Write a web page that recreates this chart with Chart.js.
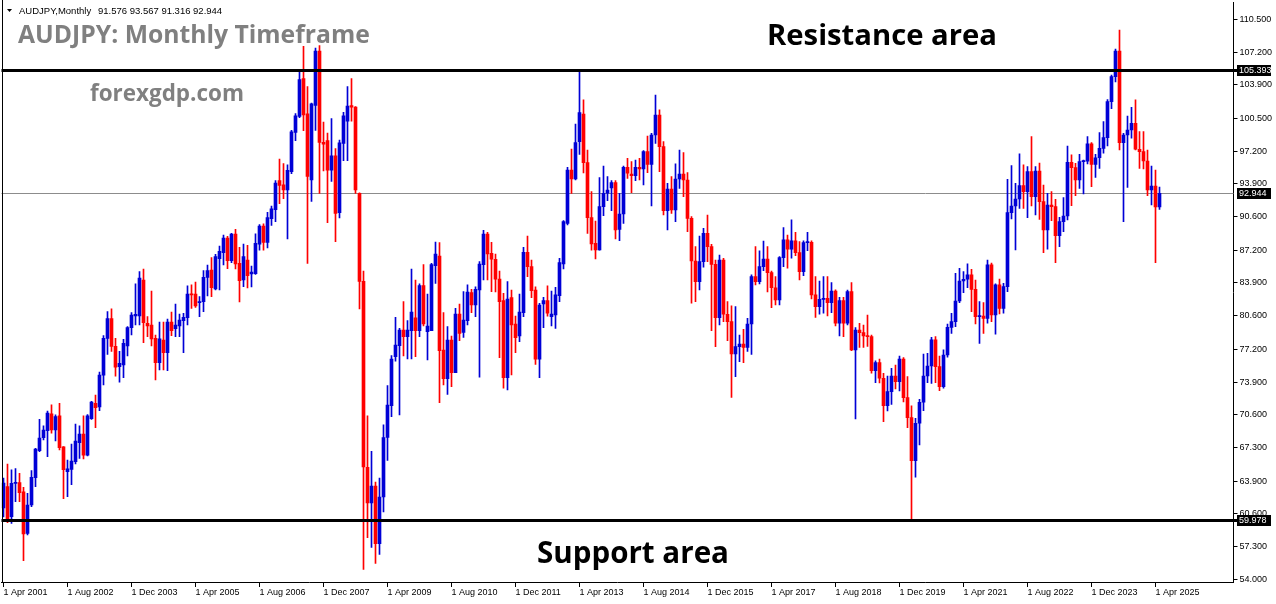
<!DOCTYPE html>
<html><head><meta charset="utf-8">
<script src="https://cdn.jsdelivr.net/npm/chart.js@4.4.1/dist/chart.umd.min.js"></script>
<style>html,body{margin:0;padding:0;background:#fff;overflow:hidden}#wrap{width:1276px;height:604px;position:relative}</style>
</head><body><div id="wrap"><canvas id="c" width="1276" height="604"></canvas></div>
<script>
const symbolInfo = "AUDJPY,Monthly";
const lastQuote = "91.576 93.567 91.316 92.944";
const titleText = "AUDJPY: Monthly Timeframe";
const siteText = "forexgdp.com";
const resistanceText = "Resistance area";
const supportText = "Support area";

const opens = [61.2,63.35,60.32,63.68,63.75,62.81,58.63,61.49,64.26,66.98,68.29,68.99,70.68,69.06,70.48,67.35,64.86,65.09,65.87,67.78,68.66,66.51,70.21,71.75,71.4,74.6,78.3,80.3,77.5,75.45,75.62,77.54,79.39,80.57,80.57,84.2,79.83,79.66,78.31,75.86,78.14,76.87,79.96,79.29,79.56,80.09,80.4,82.79,82.79,81.91,82.01,84.47,85.21,83.3,86.35,86.96,88.44,86.15,88.84,85.88,84.2,86.22,84.8,84.83,87.82,89.63,88.0,90.4,91.3,94.22,93.8,93.28,95.13,99.09,100.7,104.52,100.97,94.29,101.81,107.3,98.09,98.26,95.27,96.73,90.99,97.98,100.24,101.81,101.64,92.94,84.06,65.3,61.7,63.4,57.6,62.3,68.3,71.52,76.46,77.57,79.15,78.48,79.09,80.37,79.09,83.63,78.99,79.09,85.65,86.62,77.13,74.25,78.14,74.85,80.77,78.9,80.1,82.92,81.68,83.19,85.75,88.84,86.89,86.29,84.3,82.11,74.34,82.42,79.76,78.55,80.9,86.99,85.55,83.19,76.2,81.78,82.11,80.5,80.67,82.62,85.81,89.92,95.3,94.39,98.16,100.95,96.04,90.49,87.9,87.23,91.6,92.95,93.5,94.02,89.3,90.86,95.57,94.9,94.73,95.57,95.4,97.15,95.87,98.83,100.85,97.66,91.2,93.38,91.27,94.39,94.9,94.29,90.42,86.12,84.03,86.05,88.91,87.56,85.78,80.4,86.22,80.74,80.0,76.73,77.47,77.74,77.4,79.76,84.54,84.03,85.55,86.32,84.94,83.42,82.18,86.45,88.24,87.3,88.14,86.96,85.04,87.97,88.0,82.69,81.51,82.25,82.35,81.92,83.09,79.83,82.11,79.83,83.02,77.13,79.15,78.88,78.55,78.48,75.05,75.86,74.28,71.52,72.93,74.51,73.94,76.23,72.33,70.31,65.97,69.74,71.86,74.51,75.52,78.15,75.45,73.44,76.63,79.42,79.99,82.08,84.1,84.27,84.71,83.26,80.5,80.55,80.33,85.72,80.67,83.7,81.34,83.53,91.0,91.67,92.37,93.72,93.11,95.13,92.61,95.2,92.1,89.25,91.77,91.6,88.68,90.09,90.66,96.08,95.54,94.29,96.14,96.2,97.93,95.87,96.54,97.49,98.56,102.2,104.72,107.31,98.06,98.83,99.34,100.01,97.39,97.15,96.21,93.28,93.68,91.576];
const highs = [64.2,65.63,65.03,65.16,64.69,63.28,62.67,64.96,67.21,70.14,69.47,70.98,71.59,70.58,71.75,67.38,66.03,67.65,69.67,69.47,70.48,70.61,71.96,72.59,74.9,78.6,81.0,81.3,78.3,77.0,78.21,79.49,80.9,83.8,85.04,85.31,80.5,83.09,78.65,79.96,79.96,80.26,80.97,81.78,80.77,80.84,83.6,83.7,84.0,82.52,85.14,85.71,86.45,86.79,87.63,88.74,88.6,88.91,89.31,87.5,87.83,87.7,85.6,88.87,89.8,89.87,91.02,91.65,94.22,96.41,95.96,95.82,99.3,101.0,105.22,107.79,103.72,102.05,107.6,107.85,100.14,99.02,100.49,97.46,98.33,101.11,103.72,104.52,101.7,93.0,85.11,70.5,66.9,63.8,64.2,69.57,73.54,76.56,80.43,79.32,82.01,80.1,85.31,84.2,83.8,85.75,82.79,85.88,88.03,87.97,80.9,79.49,78.55,81.34,81.78,83.02,83.7,83.26,83.5,86.05,89.2,89.0,88.0,86.82,85.11,82.85,84.03,83.19,80.56,82.79,87.5,88.64,86.2,83.5,81.85,82.45,83.6,83.09,83.46,86.39,90.19,95.57,97.42,99.94,105.22,102.37,97.32,93.11,90.15,94.53,95.7,94.63,94.23,94.23,92.95,95.7,96.48,96.14,96.31,96.48,97.25,98.73,99.0,102.87,101.36,98.16,93.96,94.63,95.91,97.32,97.05,95.03,90.59,87.56,88.64,89.42,90.76,87.8,86.22,86.72,86.39,82.01,81.58,81.51,78.65,79.22,80.33,84.71,87.56,87.13,88.13,87.56,85.11,84.54,86.55,89.48,88.74,90.26,89.01,88.07,88.14,89.01,88.14,84.54,84.1,84.54,84.54,83.93,83.2,82.45,82.45,83.19,83.93,79.39,79.83,79.66,80.67,78.65,76.03,76.23,74.78,74.51,75.28,75.62,76.53,76.36,74.45,71.49,70.24,72.16,76.73,76.8,78.42,78.48,76.53,77.14,79.76,80.84,84.87,85.38,85.04,85.82,85.28,84.2,82.02,81.91,86.22,85.9,83.8,84.3,83.86,94.36,95.74,93.96,96.92,95.81,95.64,98.66,95.64,96.0,93.79,92.95,93.11,92.34,90.52,92.51,97.72,96.82,95.98,96.88,96.3,98.67,98.06,96.88,99.07,100.18,102.4,104.89,107.51,109.43,99.0,100.75,101.63,102.37,99.17,99.17,97.32,95.7,95.3,93.567];
const lows = [60.3,59.71,59.64,61.83,61.83,55.88,58.47,61.33,63.34,66.88,68.05,66.37,68.73,67.95,67.04,62.13,62.33,63.55,65.63,66.2,66.14,66.44,70.14,69.3,71.0,73.6,76.7,77.0,74.5,73.9,74.34,76.53,78.65,79.66,79.66,77.88,78.48,77.54,74.11,75.12,75.12,75.05,78.58,78.48,78.48,76.87,79.66,81.34,81.44,80.5,81.0,82.59,82.52,83.19,83.19,85.71,85.34,85.95,85.31,81.98,83.53,83.39,83.5,84.76,87.2,87.2,87.44,89.7,90.08,91.89,92.4,88.34,94.92,98.26,100.59,99.26,85.87,92.13,99.3,92.94,95.2,89.98,94.15,88.06,90.47,96.24,96.24,100.24,92.94,81.28,55.0,58.2,57.2,55.6,56.5,60.8,66.0,70.41,76.0,70.58,76.53,76.23,76.23,76.46,78.48,79.56,76.13,79.09,83.86,71.82,73.6,72.66,73.44,74.85,78.08,78.41,79.66,80.9,80.5,74.38,84.2,84.2,83.02,83.0,76.36,73.27,73.1,74.61,76.87,77.98,80.5,84.54,82.42,75.69,74.34,79.39,80.56,79.56,79.32,82.0,85.31,89.75,92.94,94.29,96.88,95.0,88.91,87.2,86.32,87.2,90.69,92.21,91.2,88.34,88.17,89.92,94.46,93.01,94.23,94.29,93.79,95.03,91.67,97.99,95.13,90.76,89.25,90.93,90.09,93.45,92.61,89.08,81.85,82.01,83.19,85.5,86.05,79.08,77.47,79.66,80.0,78.08,72.36,74.44,75.96,75.86,77.0,76.7,83.69,83.8,85.14,83.0,81.41,81.68,81.68,85.55,85.38,86.39,86.66,84.2,84.64,87.16,82.3,80.43,80.74,80.84,80.57,80.91,79.56,78.55,78.48,79.66,77.07,70.17,77.4,77.4,77.5,74.8,73.84,73.8,69.9,70.98,71.65,73.2,73.0,71.9,69.3,59.95,64.3,67.55,71.0,73.84,73.77,73.84,73.03,73.27,76.4,78.82,79.49,81.91,82.92,83.43,81.0,79.76,77.81,78.82,79.83,79.99,78.72,80.77,80.84,83.02,90.36,87.23,91.43,91.43,90.49,91.67,90.76,90.3,86.96,87.3,90.19,85.95,87.56,89.07,90.26,91.7,92.71,93.45,92.88,95.91,93.62,94.56,95.47,97.0,97.72,101.5,104.2,97.32,90.09,93.55,98.5,97.32,95.47,95.4,92.71,91.77,85.95,91.316];
const closes = [63.7,60.05,63.68,63.72,62.74,58.57,61.49,64.29,67.14,68.25,69.06,70.78,69.06,70.41,67.28,65.06,65.13,65.93,67.95,68.66,66.51,70.48,71.89,71.32,74.6,78.3,80.3,77.5,75.4,75.79,77.8,79.39,80.67,80.73,84.4,79.89,79.56,78.25,75.86,78.25,76.87,79.96,79.09,79.66,80.16,80.43,82.79,82.69,81.58,82.01,84.47,85.14,83.43,86.55,87.09,88.44,86.15,88.84,85.81,84.13,86.55,84.64,85.0,87.89,89.63,88.0,90.5,91.37,93.98,93.74,93.28,95.27,99.16,100.76,104.42,100.87,94.64,101.98,107.3,98.09,97.9,95.27,96.73,90.92,98.05,100.76,101.74,101.64,93.28,84.06,65.34,61.7,63.4,57.6,62.3,68.3,71.58,76.23,77.64,79.15,78.48,79.15,80.97,79.09,83.63,79.76,79.56,85.75,86.82,77.07,74.25,78.14,74.85,80.77,78.82,80.16,82.99,81.68,83.26,85.81,88.84,86.82,86.29,84.27,82.02,74.34,82.28,79.66,78.38,80.97,86.99,85.55,83.12,76.2,81.68,82.11,80.84,80.77,82.69,85.95,90.09,95.3,94.39,98.06,101.09,96.04,90.49,87.83,87.23,91.6,92.95,93.28,94.02,89.25,90.86,95.57,94.97,94.73,95.57,95.4,97.15,95.87,98.83,100.85,97.66,91.2,93.38,91.27,94.39,94.9,94.29,90.42,86.12,84.03,86.05,88.91,87.56,85.78,80.4,86.22,80.74,80.0,76.73,77.47,77.74,77.4,79.76,84.54,84.03,85.55,86.32,84.94,83.42,82.18,86.45,88.24,87.3,88.14,86.96,85.04,87.97,88.0,82.69,81.51,82.25,82.35,81.92,83.09,79.83,82.11,79.83,83.02,77.13,79.15,78.88,78.55,78.48,75.05,75.86,74.28,71.52,72.93,74.51,73.94,76.23,72.33,70.31,65.97,69.74,71.86,74.51,75.52,78.15,75.45,73.44,76.63,79.42,79.99,82.08,84.1,84.27,84.71,83.26,80.5,80.55,80.33,85.72,80.67,83.7,81.34,83.53,91.0,91.67,92.37,93.72,93.11,95.13,92.61,95.2,92.1,89.25,91.77,91.6,88.68,90.09,90.66,96.08,95.54,94.29,96.14,96.2,97.93,95.87,96.54,97.49,98.56,102.2,104.72,107.31,98.06,98.83,99.34,100.01,97.39,97.15,96.21,93.28,93.68,91.576,92.944];

const yTicks = [110.5,107.2,103.9,100.5,97.2,93.9,90.6,87.2,83.9,80.6,77.2,73.9,70.6,67.3,63.9,60.6,57.3,54.0];
const lineLevels = [105.393, 59.978];
const bidLevel = 92.944;
const firstMonth = {year: 2001, month: 3};
const slotCount = 308;
const labelEvery = 16;

const MONTHS = ['Jan','Feb','Mar','Apr','May','Jun','Jul','Aug','Sep','Oct','Nov','Dec'];
const categories = [];
for (let k = 0; k < slotCount; k++) {
  const m = firstMonth.month + k;
  categories.push('1 ' + MONTHS[m % 12] + ' ' + (firstMonth.year + Math.floor(m / 12)));
}
const BLUE = '#0000d6', RED = '#ff0000';
const colors = closes.map((c, k) => c >= opens[k] ? BLUE : RED);
const wickData = lows.map((l, k) => [l, highs[k]]);
const bodyData = opens.map((o, k) => [o, closes[k]]);

const Y_MIN = 53.721, Y_MAX = 112.254;
const FONT = 'Liberation Sans, Arial, sans-serif';

function fitText(ctx, text, x, baseline, width, weight, family, color) {
  ctx.font = weight + ' 100px ' + family;
  const w = ctx.measureText(text).width;
  const size = 100 * width / w;
  ctx.font = weight + ' ' + size.toFixed(2) + 'px ' + family;
  ctx.fillStyle = color;
  ctx.textAlign = 'left';
  ctx.textBaseline = 'alphabetic';
  ctx.fillText(text, x, baseline);
}

const overlay = {
  id: 'overlay',
  beforeDatasetsDraw(chart) {
    const {ctx, chartArea: a, scales: {y}} = chart;
    const py = Math.round(y.getPixelForValue(bidLevel)) + 0.5;
    ctx.save();
    ctx.strokeStyle = '#8c8c8c';
    ctx.lineWidth = 1;
    ctx.beginPath(); ctx.moveTo(a.left, py); ctx.lineTo(a.right, py); ctx.stroke();
    ctx.restore();
  },
  afterDatasetsDraw(chart) {
    const {ctx, chartArea: a, scales: {y}} = chart;
    ctx.save();
    ctx.strokeStyle = '#000';
    ctx.lineWidth = 3;
    lineLevels.forEach(v => {
      const py = Math.round(y.getPixelForValue(v)) + 0.5;
      ctx.beginPath(); ctx.moveTo(a.left, py); ctx.lineTo(a.right + 4, py); ctx.stroke();
    });
    ctx.restore();
  },
  afterDraw(chart) {
    const {ctx, chartArea: a, scales: {y}} = chart;
    ctx.save();
    ctx.strokeStyle = '#000'; ctx.lineWidth = 1;
    ctx.beginPath(); ctx.moveTo(2.5, 0); ctx.lineTo(2.5, a.bottom); ctx.stroke();
    ctx.font = '9px ' + FONT;
    ctx.textBaseline = 'middle';
    ctx.textAlign = 'left';
    [...lineLevels, bidLevel].forEach(v => {
      const py = Math.round(y.getPixelForValue(v));
      ctx.fillStyle = '#000';
      ctx.fillRect(1237, py - 5, 34, 11);
      ctx.fillStyle = '#fff';
      ctx.fillText(v.toFixed(3), 1239, py + 0.5);
    });
    ctx.fillStyle = '#000';
    ctx.beginPath(); ctx.moveTo(7, 9); ctx.lineTo(12, 9); ctx.lineTo(9.5, 12); ctx.closePath(); ctx.fill();
    ctx.font = '9.5px ' + FONT;
    ctx.textBaseline = 'alphabetic';
    ctx.fillText(symbolInfo, 19, 14);
    ctx.fillText(lastQuote, 98, 14);
    fitText(ctx, titleText, 18, 43, 352, 'bold', 'Open Sans, sans-serif', '#808080');
    fitText(ctx, siteText, 90, 101, 154, 'bold', 'Open Sans, sans-serif', '#808080');
    fitText(ctx, resistanceText, 767, 45, 230, 'bold', 'Open Sans, sans-serif', '#000');
    fitText(ctx, supportText, 537, 563, 192, 'bold', 'Open Sans, sans-serif', '#000');
    ctx.restore();
  }
};

new Chart(document.getElementById('c'), {
  type: 'bar',
  data: {
    labels: categories,
    datasets: [
      {data: wickData, backgroundColor: colors, barThickness: 1, grouped: false, order: 2, borderWidth: 0},
      {data: bodyData, backgroundColor: colors, barThickness: 3, grouped: false, order: 1, borderWidth: 0, minBarLength: 1}
    ]
  },
  options: {
    responsive: false, animation: false, devicePixelRatio: 1,
    layout: {padding: {left: 1.5, right: 0.5, top: 2, bottom: 0}},
    plugins: {legend: {display: false}, tooltip: {enabled: false}},
    scales: {
      x: {
        type: 'category', offset: true,
        grid: {display: true, drawOnChartArea: false, drawTicks: true, tickLength: 5, color: '#000', offset: false},
        border: {display: true, color: '#000', width: 1},
        ticks: {autoSkip: false, maxRotation: 0, minRotation: 0, align: 'start', padding: 0, color: '#000',
          font: {family: FONT, size: 9},
          callback: function (v) { return this.getLabelForValue(v); }},
        afterBuildTicks: s => { s.ticks = s.ticks.filter(t => t.value % labelEvery === 0 && t.value < closes.length); },
        afterFit: s => { s.height = 22; s.paddingLeft = 0; s.paddingRight = 0; }
      },
      y: {
        position: 'right', min: Y_MIN, max: Y_MAX,
        grid: {display: true, drawOnChartArea: false, drawTicks: true, tickLength: 4, color: '#000'},
        border: {display: true, color: '#000', width: 1},
        ticks: {padding: 2, color: '#000', font: {family: FONT, size: 9},
          callback: v => Number(v).toFixed(3)},
        afterBuildTicks: s => { s.ticks = yTicks.map(v => ({value: v})); },
        afterFit: s => { s.width = 42; s.paddingTop = 0; s.paddingBottom = 0; }
      }
    }
  },
  plugins: [overlay]
});
</script></body></html>
